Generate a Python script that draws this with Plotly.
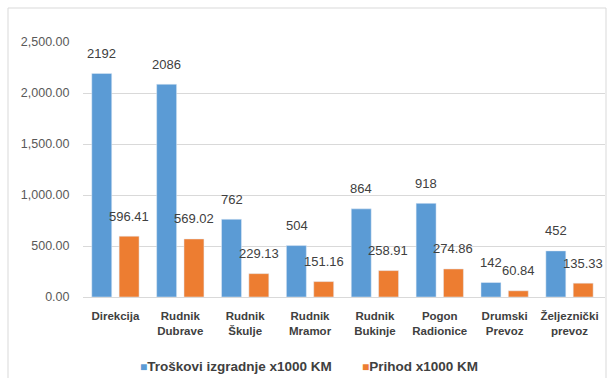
import plotly.graph_objects as go

categories = ["Direkcija<br>&nbsp;", "Rudnik<br>Dubrave", "Rudnik<br>Škulje", "Rudnik<br>Mramor",
              "Rudnik<br>Bukinje", "Pogon<br>Radionice", "Drumski<br>Prevoz", "Željeznički<br>prevoz"]
troskovi = [2192, 2086, 762, 504, 864, 918, 142, 452]
prihod = [596.41, 569.02, 229.13, 151.16, 258.91, 274.86, 60.84, 135.33]
troskovi_labels = ["2192", "2086", "762", "504", "864", "918", "142", "452"]
prihod_labels = ["596.41", "569.02", "229.13", "151.16", "258.91", "274.86", "60.84", "135.33"]
series_names = ["Troškovi izgradnje x1000 KM", "Prihod x1000 KM"]
y_ticks = [0, 500, 1000, 1500, 2000, 2500]

BLUE = "#5B9BD5"
ORANGE = "#ED7D31"
FONT = "Liberation Sans"
LABEL_FONT = dict(family=FONT, size=13, color="#404040")

fig = go.Figure()
fig.add_trace(go.Bar(x=categories, y=troskovi, name=series_names[0], marker_color=BLUE,
                     showlegend=False))
fig.add_trace(go.Bar(x=categories, y=prihod, name=series_names[1], marker_color=ORANGE,
                     showlegend=False))

L, R, T, B = 83, 8, 42, 81
W, H = 613, 378
pw, ph = W - L - R, H - T - B

annotations = []
for i, c in enumerate(categories):
    annotations.append(dict(x=c, y=troskovi[i], text=troskovi_labels[i], showarrow=False,
                            xshift=-13.5, yshift=20, font=LABEL_FONT))
    annotations.append(dict(x=c, y=prihod[i], text=prihod_labels[i], showarrow=False,
                            xshift=13.5, yshift=20, font=LABEL_FONT))

# legend (small square markers like the original)
legend_y = (H - B - 366) / ph
for name, col, px in [(series_names[0], BLUE, 138), (series_names[1], ORANGE, 360)]:
    annotations.append(dict(xref="paper", yref="paper", x=(px - L) / pw, y=legend_y,
                            xanchor="left", yanchor="middle", showarrow=False,
                            text=f'<span style="color:{col};font-size:12px">■</span>{name}',
                            font=dict(family=FONT, size=13.5, color="#404040", weight="bold")))

fig.update_layout(
    width=W, height=H,
    margin=dict(l=L, r=R, t=T, b=B),
    paper_bgcolor="white", plot_bgcolor="white",
    barmode="group", bargap=0.157, bargroupgap=0.27,
    font=dict(family=FONT, color="#595959"),
    annotations=annotations,
    showlegend=False,
    shapes=[dict(type="rect", xref="paper", yref="paper",
                 x0=(8 - L) / pw, x1=(606 - L) / pw, y0=(H - B - 380) / ph, y1=(H - B - 8) / ph,
                 line=dict(color="#D9D9D9", width=1), fillcolor="rgba(0,0,0,0)", layer="below")],
)

fig.update_xaxes(showgrid=False, showline=True, linecolor="#D9D9D9", linewidth=1,
                 tickfont=dict(family=FONT, size=11.5, color="#404040", weight="bold"),
                 ticks="outside", ticklen=8, tickcolor="rgba(0,0,0,0)")
fig.update_yaxes(range=[0, 2500], tickvals=y_ticks, tickformat=",.2f",
                 showgrid=True, gridcolor="#D9D9D9", gridwidth=1, zeroline=False,
                 tickfont=dict(family=FONT, size=12.5, color="#595959"),
                 ticks="outside", ticklen=10, tickcolor="rgba(0,0,0,0)")

fig.write_html("out.html")
